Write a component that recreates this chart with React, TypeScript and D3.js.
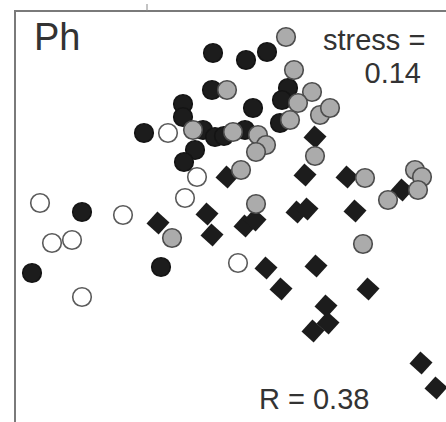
import React, { useEffect, useRef } from 'react';
import * as d3 from 'd3';

type Pt = [number, number];

// MDS ordination coordinates (arbitrary units)
const blackSites: Pt[] = [
  [-0.26, 1.68], [0.07, 1.61], [0.28, 1.69], [-0.27, 1.31], [-0.56, 1.17],
  [-0.56, 1.04], [-0.95, 0.88], [-0.36, 0.91], [-0.24, 0.84], [-0.15, 0.85],
  [0.06, 0.91], [0.14, 1.13], [0.49, 1.33], [0.43, 1.21], [0.41, 0.98],
  [-0.44, 0.71], [-0.55, 0.59], [-1.57, 0.09], [-2.07, -0.52], [-0.78, -0.46],
];

const greySites: Pt[] = [
  [0.47, 1.84], [-0.12, 1.31], [0.55, 1.51], [0.73, 1.29], [0.59, 1.18],
  [0.51, 1.01], [0.81, 1.06], [0.91, 1.13], [-0.46, 0.91], [-0.06, 0.89],
  [0.19, 0.86], [0.27, 0.76], [0.17, 0.69], [0.76, 0.65], [0.02, 0.51],
  [0.17, 0.17], [1.26, 0.43], [1.76, 0.51], [1.83, 0.44], [1.79, 0.31],
  [1.49, 0.21], [-0.67, -0.17], [1.24, -0.23],
];

const openSites: Pt[] = [
  [-0.71, 0.88], [-0.42, 0.44], [-0.54, 0.23], [-1.99, 0.18], [-1.16, 0.06],
  [-1.87, -0.22], [-1.67, -0.19], [-1.57, -0.76], [-0.01, -0.42],
];

const diamondSites: Pt[] = [
  [-0.12, 0.44], [0.76, 0.84], [0.66, 0.46], [1.08, 0.44], [1.63, 0.31],
  [0.58, 0.09], [0.68, 0.12], [1.16, 0.1], [-0.81, -0.02], [-0.32, 0.07],
  [-0.27, -0.14], [0.06, -0.05], [0.16, 0.01], [0.27, -0.47], [0.42, -0.68],
  [0.77, -0.45], [1.29, -0.68], [0.87, -0.85], [0.74, -1.1], [0.89, -1.02],
  [1.82, -1.42], [1.97, -1.67],
];

const panelLabel = 'Ph';
const stressLabel = ['stress =', '0.14'];
const rLabel = 'R = 0.38';

const width = 446;
const height = 422;

const App: React.FC = () => {
  const svgRef = useRef<SVGSVGElement>(null);

  useEffect(() => {
    if (!svgRef.current) return;
    const svg = d3.select(svgRef.current);
    svg.selectAll('*').remove();

    const x = d3.scaleLinear().domain([-2.2, 2.2]).range([19, 459]);
    const y = d3.scaleLinear().domain([-2.2, 2.2]).range([441, 1]);

    svg.append('rect').attr('width', width).attr('height', height).attr('fill', '#fff');

    // frame (cropped on right and bottom)
    svg
      .append('path')
      .attr('d', `M15,${height + 5}V11H${width + 5}`)
      .attr('fill', 'none')
      .attr('stroke', '#7a7a7a')
      .attr('stroke-width', 2);
    svg
      .append('line')
      .attr('x1', 147)
      .attr('x2', 147)
      .attr('y1', 4)
      .attr('y2', 11)
      .attr('stroke', '#888')
      .attr('stroke-width', 1);

    const r = 9.3;

    const circles = (data: Pt[], fill: string, stroke: string) => {
      svg
        .append('g')
        .selectAll('circle')
        .data(data)
        .enter()
        .append('circle')
        .attr('cx', (d) => x(d[0]))
        .attr('cy', (d) => y(d[1]))
        .attr('r', r)
        .attr('fill', fill)
        .attr('stroke', stroke)
        .attr('stroke-width', 1.6);
    };

    circles(openSites, '#fff', '#5a5a5a');
    circles(blackSites, '#1c1c1c', '#141414');

    const square = d3.symbol().type(d3.symbolSquare).size(265);
    svg
      .append('g')
      .selectAll('path')
      .data(diamondSites)
      .enter()
      .append('path')
      .attr('d', square)
      .attr('transform', (d) => `translate(${x(d[0])},${y(d[1])}) rotate(42)`)
      .attr('fill', '#1c1c1c');

    circles(greySites, '#ababab', '#4c4c4c');

    const font = "'Liberation Sans', Arial, Helvetica, sans-serif";
    const text = (t: string, tx: number, ty: number, size: number, anchor = 'start') =>
      svg
        .append('text')
        .attr('x', tx)
        .attr('y', ty)
        .attr('font-family', font)
        .attr('font-size', size)
        .attr('text-anchor', anchor)
        .attr('fill', '#333')
        .text(t);

    text(panelLabel, 34, 50, 38);
    text(stressLabel[0], 323, 50, 29);
    text(stressLabel[1], 421, 83, 29, 'end');
    text(rLabel, 259, 409, 29);
  }, []);

  return (
    <svg
      ref={svgRef}
      width={width}
      height={height}
      style={{ position: 'absolute', left: 0, top: 0 }}
    />
  );
};

export default App;
